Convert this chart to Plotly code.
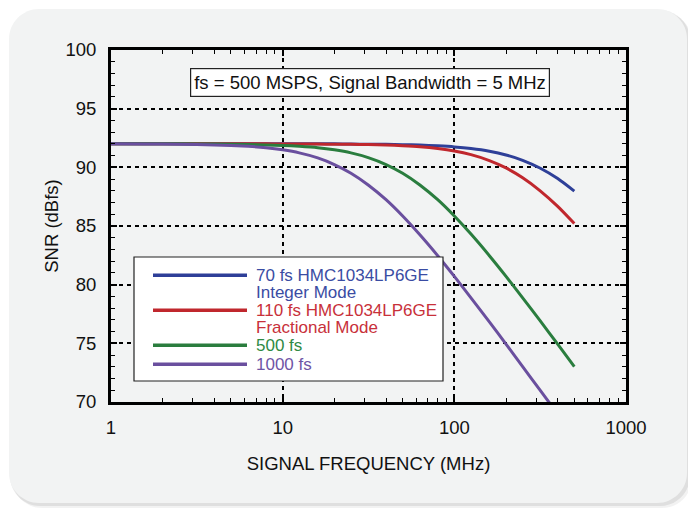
import plotly.graph_objects as go

# ---- data ----
freq_mhz = [1, 1.6, 2.5, 4, 6.3, 8, 10, 12.5, 16, 20, 25, 31.5, 40, 50, 63, 80, 100, 125, 160, 200,
            250, 315, 400, 500]
snr_70fs = [92.0, 92.0, 92.0, 92.0, 92.0, 92.0, 92.0, 92.0, 92.0, 92.0, 91.98, 91.97, 91.96, 91.93,
            91.90, 91.83, 91.74, 91.60, 91.37, 91.05, 90.60, 89.94, 89.04, 87.97]
snr_110fs = [92.0, 92.0, 92.0, 92.0, 92.0, 92.0, 91.99, 91.99, 91.98, 91.97, 91.96, 91.94, 91.90, 91.84,
             91.75, 91.60, 91.39, 91.08, 90.58, 89.95, 89.11, 88.02, 86.67, 85.21]
snr_500fs = [92.0, 92.0, 92.0, 91.98, 91.95, 91.91, 91.87, 91.79, 91.67, 91.49, 91.23, 90.83, 90.24, 89.50,
             88.50, 87.24, 85.85, 84.31, 82.47, 80.71, 78.88, 76.95, 74.93, 73.02]
freq_1000 = [1, 1.6, 2.5, 4, 6.3, 8, 10, 12.5, 16, 20, 25, 31.5, 40, 50, 63, 80, 100, 125, 160, 200,
             250, 315, 400]
snr_1000fs = [92.0, 91.99, 91.97, 91.91, 91.79, 91.67, 91.49, 91.23, 90.80, 90.24, 89.50, 88.50, 87.24,
              85.85, 84.25, 82.47, 80.71, 78.88, 76.83, 74.93, 73.02, 71.03, 68.98]

series_names = ["70 fs HMC1034LP6GE|Integer Mode", "110 fs HMC1034LP6GE|Fractional Mode", "500 fs", "1000 fs"]
series_colors = ["#2e3f98", "#c0272d", "#2a7d3e", "#6a4f9e"]
text_colors = ["#3a4ca3", "#c8303a", "#2f8a44", "#6f55a6"]

x_tickvals = [1, 10, 100, 1000]
x_ticktext = ["1", "10", "100", "1000"]
y_tickvals = [70, 75, 80, 85, 90, 95, 100]

# page geometry (the page body has an 8px margin)
OX, OY = 8, 8
PAGE_W, PAGE_H = 696, 509
W, H = PAGE_W - OX, PAGE_H - OY
# plot frame in page pixels
FX0, FX1, FY0, FY1 = 111, 626, 50, 402
L, R, T, B = FX0 - OX, PAGE_W - FX1, FY0 - OY, PAGE_H - FY1
PW, PH = FX1 - FX0, FY1 - FY0
FONT = "Liberation Sans, Arial, Helvetica, sans-serif"
FS = 18.5


def px(x):
    return (x - FX0) / PW


def py(y):
    return (FY1 - y) / PH


def rounded_rect(x0, y0, x1, y1, r):
    k = 0.45
    pts = [
        f"M {px(x0 + r)},{py(y0)}",
        f"L {px(x1 - r)},{py(y0)}",
        f"C {px(x1 - r * k)},{py(y0)} {px(x1)},{py(y0 + r * k)} {px(x1)},{py(y0 + r)}",
        f"L {px(x1)},{py(y1 - r)}",
        f"C {px(x1)},{py(y1 - r * k)} {px(x1 - r * k)},{py(y1)} {px(x1 - r)},{py(y1)}",
        f"L {px(x0 + r)},{py(y1)}",
        f"C {px(x0 + r * k)},{py(y1)} {px(x0)},{py(y1 - r * k)} {px(x0)},{py(y1 - r)}",
        f"L {px(x0)},{py(y0 + r)}",
        f"C {px(x0)},{py(y0 + r * k)} {px(x0 + r * k)},{py(y0)} {px(x0 + r)},{py(y0)}",
        "Z",
    ]
    return " ".join(pts)


fig = go.Figure()
series = [(freq_mhz, snr_70fs), (freq_mhz, snr_110fs), (freq_mhz, snr_500fs), (freq_1000, snr_1000fs)]
for (xs, ys), name, col in zip(series, series_names, series_colors):
    fig.add_trace(go.Scatter(x=xs, y=ys, mode="lines", name=name.replace("|", " "),
                             line=dict(color=col, width=3, shape="spline", smoothing=0.6),
                             showlegend=False, hoverinfo="skip"))

shapes = []
# panel shadow + panel
shapes.append(dict(type="path", xref="paper", yref="paper", path=rounded_rect(12, 12, 692, 508, 30),
                   fillcolor="rgba(0,0,0,0.05)", line=dict(width=0), layer="below"))
shapes.append(dict(type="path", xref="paper", yref="paper", path=rounded_rect(10, 10, 690, 506, 30),
                   fillcolor="rgba(0,0,0,0.08)", line=dict(width=0), layer="below"))
shapes.append(dict(type="path", xref="paper", yref="paper", path=rounded_rect(9, 9, 687, 503, 30),
                   fillcolor="#f2f3f3", line=dict(width=0), layer="below"))

# legend box
shapes.append(dict(type="rect", xref="paper", yref="paper", x0=px(134), x1=px(443), y0=py(257), y1=py(381),
                   fillcolor="white", line=dict(color="#222", width=1.2), layer="above"))
legend_line_y = [275.3, 310.3, 345.3, 364.3]
for yy, col in zip(legend_line_y, series_colors):
    shapes.append(dict(type="line", xref="paper", yref="paper", x0=px(153), x1=px(247), y0=py(yy), y1=py(yy),
                       line=dict(color=col, width=3.5), layer="above"))

annotations = []
legend_text_y = [[275.3, 292.3], [310.3, 327.3], [345.3], [364.3]]
for name, tys, tcol in zip(series_names, legend_text_y, text_colors):
    for part, ty in zip(name.split("|"), tys):
        annotations.append(dict(xref="paper", yref="paper", x=px(254), y=py(ty), text=part, showarrow=False,
                                xanchor="left", yanchor="middle", font=dict(family=FONT, size=17, color=tcol)))

annotations.append(dict(xref="paper", yref="paper", x=px(370), y=py(82),
                        text="fs = 500 MSPS, Signal Bandwidth = 5 MHz", showarrow=False,
                        xanchor="center", yanchor="middle", font=dict(family=FONT, size=FS, color="#111"),
                        bgcolor="white", bordercolor="#222", borderwidth=1.2, borderpad=3))

minor_x = [m * d for d in (1, 10, 100) for m in range(2, 10)]

fig.update_layout(
    width=W, height=H,
    margin=dict(l=L, r=R, t=T, b=B, pad=0),
    paper_bgcolor="white",
    plot_bgcolor="rgba(0,0,0,0)",
    shapes=shapes,
    annotations=annotations,
    font=dict(family=FONT, size=FS, color="#111"),
    xaxis=dict(type="log", range=[0, 3], tickvals=x_tickvals, ticktext=x_ticktext,
               showline=True, linecolor="black", linewidth=3, mirror="allticks",
               ticks="inside", ticklen=6, tickwidth=1.5, tickcolor="black",
               showgrid=True, gridcolor="black", gridwidth=1.5, griddash="4px,4px",
               zeroline=False,
               minor=dict(tickvals=minor_x, ticks="inside", ticklen=4, tickwidth=1.3, tickcolor="black", showgrid=False),
               title=dict(text="SIGNAL FREQUENCY (MHz)", font=dict(family=FONT, size=FS, color="#111"), standoff=20),
               tickfont=dict(family=FONT, size=FS, color="#111"), ticklabelstandoff=7),
    yaxis=dict(range=[70, 100], tickvals=y_tickvals,
               showline=True, linecolor="black", linewidth=3, mirror="allticks",
               ticks="inside", ticklen=6, tickwidth=1.5, tickcolor="black",
               showgrid=True, gridcolor="black", gridwidth=1.5, griddash="4px,4px",
               zeroline=False,
               minor=dict(dtick=1, ticks="inside", ticklen=4, tickwidth=1.3, tickcolor="black", showgrid=False),
               title=dict(text="SNR (dBfs)", font=dict(family=FONT, size=FS, color="#111"), standoff=2),
               tickfont=dict(family=FONT, size=FS, color="#111"), ticklabelstandoff=8),
)

fig.write_html("out.html")
